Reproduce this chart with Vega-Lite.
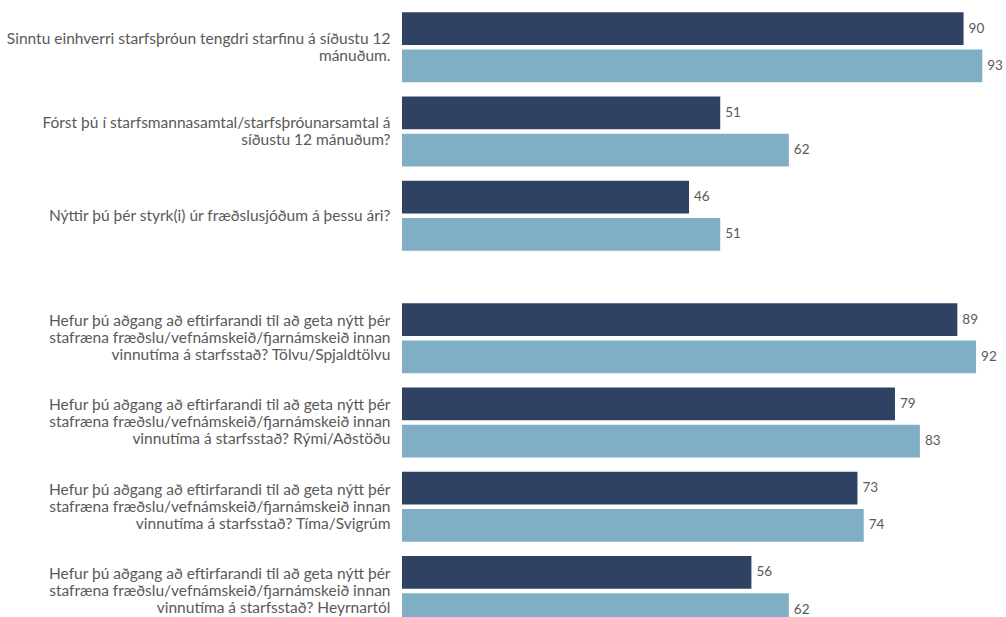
{
  "$schema": "https://vega.github.io/schema/vega-lite/v6.json",
  "padding": {"left": 5, "top": 5, "right": 0, "bottom": 0},
  "background": "white",
  "config": {"view": {"stroke": null}, "font": "Lato"},
  "datasets": {
    "rader": [
      {"hluti": "A", "spurning": "Sinntu einhverri starfsþróun tengdri starfinu á síðustu 12|mánuðum.", "hopur": "Röð 1", "verdi": 90},
      {"hluti": "A", "spurning": "Sinntu einhverri starfsþróun tengdri starfinu á síðustu 12|mánuðum.", "hopur": "Röð 2", "verdi": 93},
      {"hluti": "A", "spurning": "Fórst þú í starfsmannasamtal/starfsþróunarsamtal á|síðustu 12 mánuðum?", "hopur": "Röð 1", "verdi": 51},
      {"hluti": "A", "spurning": "Fórst þú í starfsmannasamtal/starfsþróunarsamtal á|síðustu 12 mánuðum?", "hopur": "Röð 2", "verdi": 62},
      {"hluti": "A", "spurning": "Nýttir þú þér styrk(i) úr fræðslusjóðum á þessu ári?", "hopur": "Röð 1", "verdi": 46},
      {"hluti": "A", "spurning": "Nýttir þú þér styrk(i) úr fræðslusjóðum á þessu ári?", "hopur": "Röð 2", "verdi": 51},
      {"hluti": "B", "spurning": "Hefur þú aðgang að eftirfarandi til að geta nýtt þér|stafræna fræðslu/vefnámskeið/fjarnámskeið innan|vinnutíma á starfsstað? Tölvu/Spjaldtölvu", "hopur": "Röð 1", "verdi": 89},
      {"hluti": "B", "spurning": "Hefur þú aðgang að eftirfarandi til að geta nýtt þér|stafræna fræðslu/vefnámskeið/fjarnámskeið innan|vinnutíma á starfsstað? Tölvu/Spjaldtölvu", "hopur": "Röð 2", "verdi": 92},
      {"hluti": "B", "spurning": "Hefur þú aðgang að eftirfarandi til að geta nýtt þér|stafræna fræðslu/vefnámskeið/fjarnámskeið innan|vinnutíma á starfsstað? Rými/Aðstöðu", "hopur": "Röð 1", "verdi": 79},
      {"hluti": "B", "spurning": "Hefur þú aðgang að eftirfarandi til að geta nýtt þér|stafræna fræðslu/vefnámskeið/fjarnámskeið innan|vinnutíma á starfsstað? Rými/Aðstöðu", "hopur": "Röð 2", "verdi": 83},
      {"hluti": "B", "spurning": "Hefur þú aðgang að eftirfarandi til að geta nýtt þér|stafræna fræðslu/vefnámskeið/fjarnámskeið innan|vinnutíma á starfsstað? Tíma/Svigrúm", "hopur": "Röð 1", "verdi": 73},
      {"hluti": "B", "spurning": "Hefur þú aðgang að eftirfarandi til að geta nýtt þér|stafræna fræðslu/vefnámskeið/fjarnámskeið innan|vinnutíma á starfsstað? Tíma/Svigrúm", "hopur": "Röð 2", "verdi": 74},
      {"hluti": "B", "spurning": "Hefur þú aðgang að eftirfarandi til að geta nýtt þér|stafræna fræðslu/vefnámskeið/fjarnámskeið innan|vinnutíma á starfsstað? Heyrnartól", "hopur": "Röð 1", "verdi": 56},
      {"hluti": "B", "spurning": "Hefur þú aðgang að eftirfarandi til að geta nýtt þér|stafræna fræðslu/vefnámskeið/fjarnámskeið innan|vinnutíma á starfsstað? Heyrnartól", "hopur": "Röð 2", "verdi": 62}
    ]
  },
  "spacing": 38,
  "vconcat": [
    {
      "width": 604,
      "height": 253,
      "data": {"name": "rader"},
      "transform": [{"filter": "datum.hluti === 'A'"}],
      "encoding": {
        "y": {"field": "spurning", "type": "nominal", "sort": null, "scale": {"paddingInner": 0.17, "paddingOuter": 0.085},
          "axis": {"title": null, "domain": false, "ticks": false, "labelPadding": 12, "labelFontSize": 15.5, "labelColor": "#595959", "labelLimit": 420, "labelLineHeight": 17, "minExtent": 397, "maxExtent": 397, "labelExpr": "split(datum.value, '|')",
            "labelOffset": {"condition": [{"test": "indexof(datum.value, 'Hefur') === 0", "value": -17}, {"test": "indexof(datum.value, '|') > 0", "value": -8.5}], "value": 0}}},
        "yOffset": {"field": "hopur", "type": "nominal", "sort": null, "scale": {"paddingInner": 0.12}},
        "x": {"field": "verdi", "type": "quantitative", "scale": {"domain": [0, 96.8]}, "axis": null}
      },
      "layer": [
        {"mark": {"type": "bar"}, "encoding": {"color": {"field": "hopur", "type": "nominal", "scale": {"domain": ["Röð 1", "Röð 2"], "range": ["#2F4263", "#80AFC5"]}, "legend": null}}},
        {"mark": {"type": "text", "align": "left", "baseline": "middle", "dx": 5, "fontSize": 13.5, "color": "#595959"}, "encoding": {"text": {"field": "verdi", "type": "quantitative"}}}
      ]
    },
    {
      "width": 604,
      "height": 337,
      "data": {"name": "rader"},
      "transform": [{"filter": "datum.hluti === 'B'"}],
      "encoding": {
        "y": {"field": "spurning", "type": "nominal", "sort": null, "scale": {"paddingInner": 0.17, "paddingOuter": 0.085},
          "axis": {"title": null, "domain": false, "ticks": false, "labelPadding": 12, "labelFontSize": 15.5, "labelColor": "#595959", "labelLimit": 420, "labelLineHeight": 17, "minExtent": 397, "maxExtent": 397, "labelExpr": "split(datum.value, '|')",
            "labelOffset": {"condition": [{"test": "indexof(datum.value, 'Hefur') === 0", "value": -17}, {"test": "indexof(datum.value, '|') > 0", "value": -8.5}], "value": 0}}},
        "yOffset": {"field": "hopur", "type": "nominal", "sort": null, "scale": {"paddingInner": 0.12}},
        "x": {"field": "verdi", "type": "quantitative", "scale": {"domain": [0, 96.8]}, "axis": null}
      },
      "layer": [
        {"mark": {"type": "bar"}, "encoding": {"color": {"field": "hopur", "type": "nominal", "scale": {"domain": ["Röð 1", "Röð 2"], "range": ["#2F4263", "#80AFC5"]}, "legend": null}}},
        {"mark": {"type": "text", "align": "left", "baseline": "middle", "dx": 5, "fontSize": 13.5, "color": "#595959"}, "encoding": {"text": {"field": "verdi", "type": "quantitative"}}}
      ]
    }
  ]
}
